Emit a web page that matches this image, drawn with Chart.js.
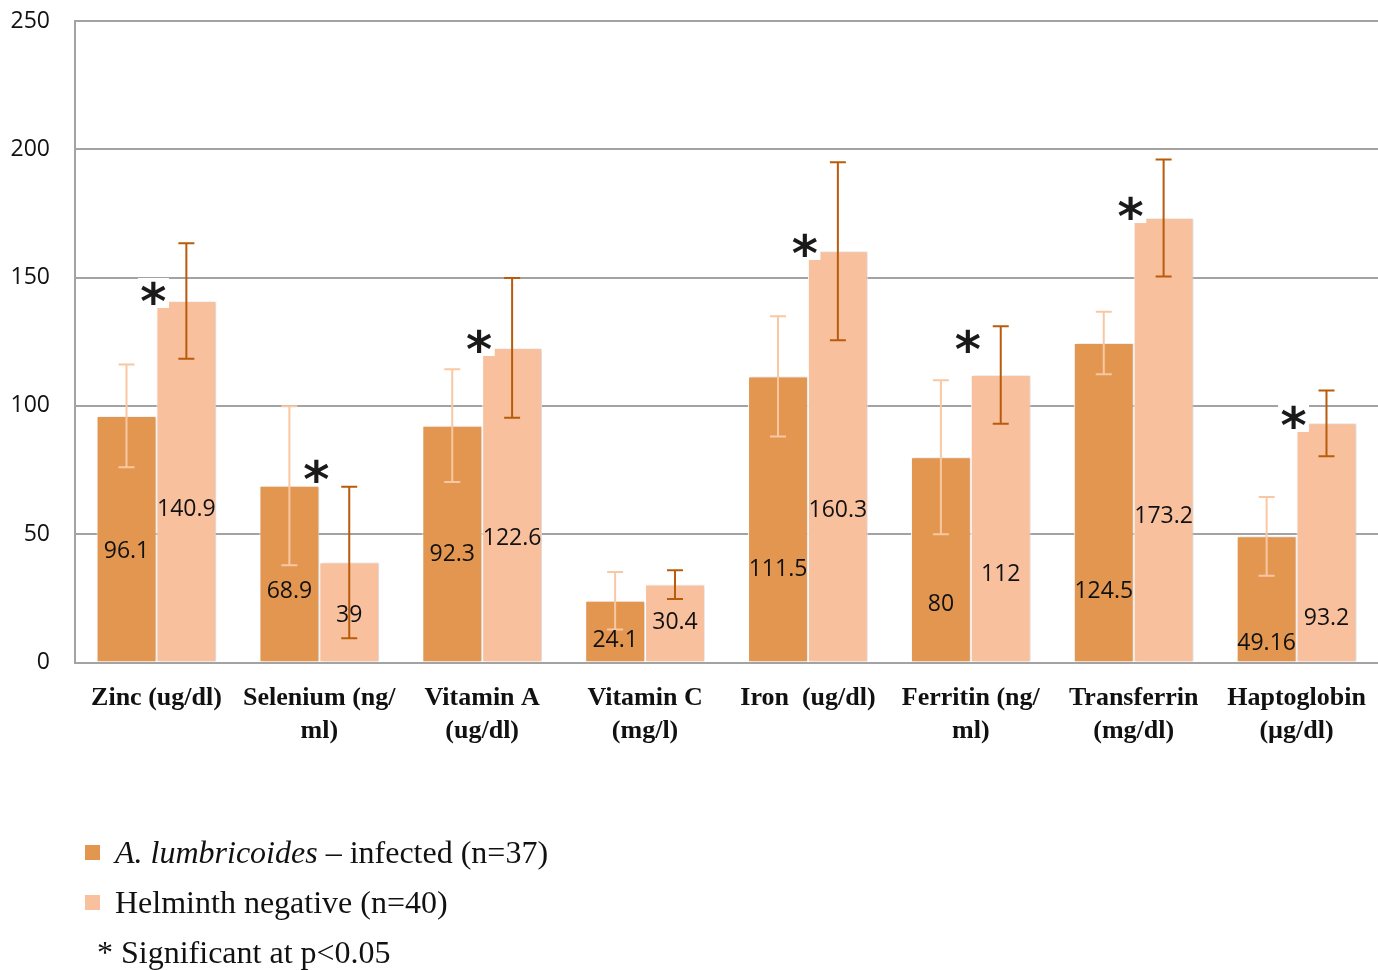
<!DOCTYPE html>
<html>
<head>
<meta charset="utf-8">
<script src="https://cdn.jsdelivr.net/npm/chart.js@4.4.1/dist/chart.umd.min.js"></script>
<style>
  html, body { margin: 0; padding: 0; background: #ffffff; }
  #wrap { position: relative; width: 1378px; height: 970px; }
  #chart { position: absolute; left: 0; top: 0; }
  #legend {
    position: absolute; left: 85px; top: 827px;
    font-family: "Liberation Serif", "Times New Roman", serif;
    font-size: 32px; color: #111111;
  }
  #legend .row { height: 50px; display: flex; align-items: center; white-space: pre; }
  #legend .swatch { width: 15px; height: 15px; margin-right: 15px; flex: none; }
  #legend .note { padding-left: 12px; }
</style>
</head>
<body>
<div id="wrap">
  <canvas id="chart" width="1378" height="970"></canvas>
  <div id="legend"></div>
</div>
<script>
// Micronutrient and acute-phase protein levels by infection status
const categories = [
  ["Zinc (ug/dl)"],
  ["Selenium (ng/", "ml)"],
  ["Vitamin A", "(ug/dl)"],
  ["Vitamin C", "(mg/l)"],
  ["Iron  (ug/dl)"],
  ["Ferritin (ng/", "ml)"],
  ["Transferrin", "(mg/dl)"],
  ["Haptoglobin", "(µg/dl)"]
];
const seriesNames = ["A. lumbricoides – infected (n=37)", "Helminth negative (n=40)"];
const infectedMeans = [96.1, 68.9, 92.3, 24.1, 111.5, 80, 124.5, 49.16];
const negativeMeans = [140.9, 39, 122.6, 30.4, 160.3, 112, 173.2, 93.2];
const infectedErr = [20, 31, 22, 11.2, 23.4, 30, 12.2, 15.3];
const negativeErr = [22.5, 29.5, 27.2, 5.6, 34.7, 19, 22.8, 12.8];
const significant = [true, true, true, false, true, true, true, true];
const yTicks = [0, 50, 100, 150, 200, 250];
const footnote = "* Significant at p<0.05";

// Placement of the value labels and significance marks (axis units)
const infectedLabelAt = [43.2, 27.6, 42.3, 8.5, 36.2, 22.6, 27.8, 7.6];
const negativeLabelAt = [59.8, 18.2, 48.4, 15.5, 59.2, 34.2, 57.0, 17.2];
const starAt = [144.0, 74.6, 125.3, null, 162.7, 125.3, 177.1, 95.7];

const COLORS = {
  infected: "#e2964f",
  negative: "#f9c09e",
  infectedErr: "#f9c8a2",
  negativeErr: "#b85c0c",
  grid: "#a3a3a3",
  text: "#111111"
};

const errorSets = [infectedErr, negativeErr];
const labelSets = [infectedLabelAt, negativeLabelAt];

// Soft shadow under the bars
const barShadow = {
  id: "barShadow",
  beforeDatasetsDraw(chart) {
    const ctx = chart.ctx;
    ctx.save();
    ctx.shadowColor = "rgba(0,0,0,0.18)";
    ctx.shadowBlur = 3;
    ctx.shadowOffsetX = 1.5;
    ctx.shadowOffsetY = 0;
  },
  afterDatasetsDraw(chart) {
    chart.ctx.restore();
  }
};

// Error bars, value labels and significance asterisks
const overlays = {
  id: "overlays",
  afterDatasetsDraw(chart) {
    const ctx = chart.ctx;
    const y = chart.scales.y;
    const cap = 8;
    ctx.save();
    chart.data.datasets.forEach((ds, di) => {
      const meta = chart.getDatasetMeta(di);
      meta.data.forEach((bar, i) => {
        const v = ds.data[i];
        const e = errorSets[di][i];
        const top = y.getPixelForValue(v + e);
        const bot = y.getPixelForValue(v - e);
        ctx.strokeStyle = ds.errorColor;
        ctx.lineWidth = 2;
        ctx.beginPath();
        ctx.moveTo(bar.x, top); ctx.lineTo(bar.x, bot);
        ctx.moveTo(bar.x - cap, top); ctx.lineTo(bar.x + cap, top);
        ctx.moveTo(bar.x - cap, bot); ctx.lineTo(bar.x + cap, bot);
        ctx.stroke();
      });
    });
    ctx.font = '23px "Open Sans", sans-serif';
    ctx.fillStyle = COLORS.text;
    ctx.textAlign = "center";
    ctx.textBaseline = "middle";
    chart.data.datasets.forEach((ds, di) => {
      const meta = chart.getDatasetMeta(di);
      meta.data.forEach((bar, i) => {
        ctx.fillText(String(ds.data[i]), bar.x, y.getPixelForValue(labelSets[di][i]));
      });
    });
    const neg = chart.getDatasetMeta(1);
    ctx.font = 'bold 50px "DejaVu Sans", sans-serif';
    ctx.textBaseline = "alphabetic";
    neg.data.forEach((bar, i) => {
      if (!significant[i]) return;
      const cx = bar.x - bar.width / 2 - 3;
      const cy = y.getPixelForValue(starAt[i]);
      const m = ctx.measureText("*");
      const asc = m.actualBoundingBoxAscent, desc = m.actualBoundingBoxDescent;
      const by = cy + (asc - desc) / 2;
      const w = m.actualBoundingBoxLeft + m.actualBoundingBoxRight;
      ctx.fillStyle = "#ffffff";
      ctx.fillRect(cx - w / 2 - 3, cy - (asc + desc) / 2 - 3, w + 6, asc + desc + 6);
      ctx.fillStyle = "#1a1a1a";
      ctx.fillText("*", cx, by);
    });
    ctx.restore();
  }
};

const chart = new Chart(document.getElementById("chart"), {
  type: "bar",
  data: {
    labels: categories,
    datasets: [
      {
        label: seriesNames[0],
        data: infectedMeans,
        backgroundColor: COLORS.infected,
        errorColor: COLORS.infectedErr,
        borderColor: "#ffffff",
        borderWidth: 1
      },
      {
        label: seriesNames[1],
        data: negativeMeans,
        backgroundColor: COLORS.negative,
        errorColor: COLORS.negativeErr,
        borderColor: "#ffffff",
        borderWidth: 1
      }
    ]
  },
  options: {
    responsive: false,
    animation: false,
    events: [],
    layout: { padding: { left: 11, right: 0, top: 21, bottom: 203 } },
    datasets: { bar: { categoryPercentage: 0.735, barPercentage: 1 } },
    plugins: { legend: { display: false }, tooltip: { enabled: false } },
    scales: {
      x: {
        afterFit(scale) { scale.paddingLeft = 0; scale.paddingRight = 0; },
        grid: { display: false, drawTicks: false },
        border: { display: true, color: COLORS.grid, width: 2 },
        ticks: {
          color: COLORS.text,
          padding: 20,
          maxRotation: 0,
          autoSkip: false,
          font: { family: '"Liberation Serif", "Times New Roman", serif', size: 26, weight: "bold", lineHeight: 1.24 }
        }
      },
      y: {
        min: 0,
        max: 250,
        afterBuildTicks(scale) { scale.ticks = yTicks.map(v => ({ value: v })); },
        afterFit(scale) { scale.width = 64; scale.paddingTop = 0; scale.paddingBottom = 0; },
        grid: { color: COLORS.grid, lineWidth: 2, drawTicks: false },
        border: { display: true, color: COLORS.grid, width: 2 },
        ticks: {
          color: COLORS.text,
          padding: 25,
          font: { family: '"Open Sans", sans-serif', size: 23 }
        }
      }
    }
  },
  plugins: [barShadow, overlays]
});

// Legend below the chart, built from the datasets
(function buildLegend() {
  const box = document.getElementById("legend");
  chart.data.datasets.forEach(ds => {
    const row = document.createElement("div");
    row.className = "row";
    const sw = document.createElement("span");
    sw.className = "swatch";
    sw.style.background = ds.backgroundColor;
    row.appendChild(sw);
    const txt = document.createElement("span");
    const m = ds.label.match(/^([A-Z]\. [a-z]+)(.*)$/);
    if (m) {
      const it = document.createElement("i");
      it.textContent = m[1];
      txt.appendChild(it);
      txt.appendChild(document.createTextNode(m[2]));
    } else {
      txt.textContent = ds.label;
    }
    row.appendChild(txt);
    box.appendChild(row);
  });
  const note = document.createElement("div");
  note.className = "row note";
  note.textContent = footnote;
  box.appendChild(note);
})();
</script>
</body>
</html>
